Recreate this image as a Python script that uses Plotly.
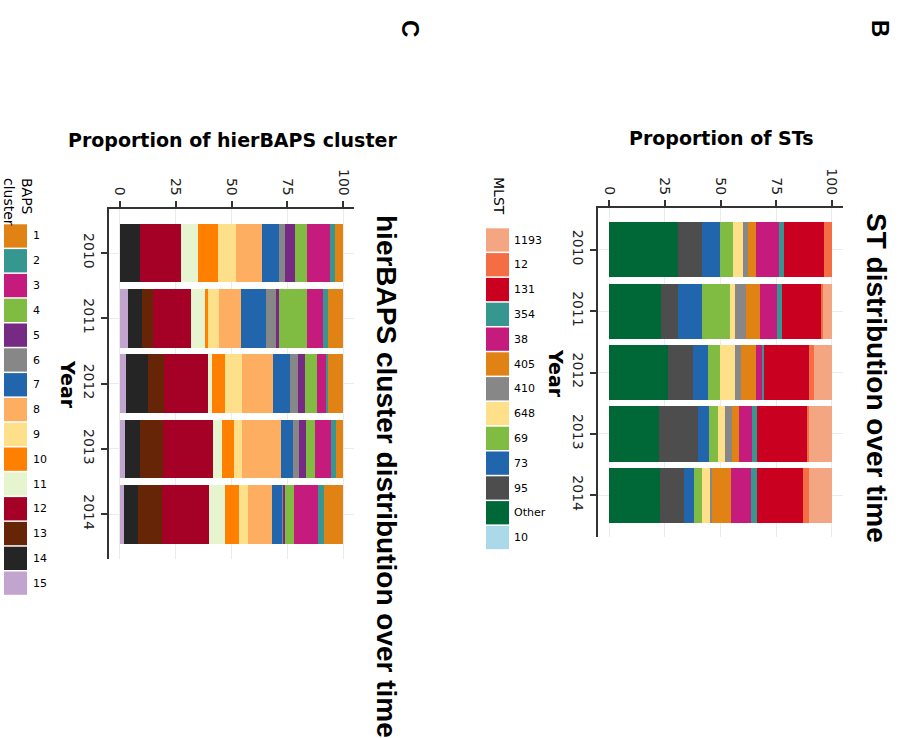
import plotly.graph_objects as go

W, H = 900, 738

years = ['2010', '2011', '2012', '2013', '2014']

# Panel B: MLST (ST) proportions per year (stack order from 0 outward)
st_order = ['Other', '95', '73', '69', '648', '410', '405', '38', '354', '131', '12', '1193', '10']
st_values = {
    'Other': [30.7, 23.4, 26.3, 22.4, 22.8],
    '95':    [11.2, 7.5, 11.3, 17.3, 10.8],
    '73':    [8.0, 11.0, 6.7, 5.1, 4.5],
    '69':    [5.6, 12.3, 5.6, 4.2, 3.7],
    '648':   [4.5, 2.5, 6.7, 2.9, 3.7],
    '410':   [2.4, 4.8, 2.8, 3.2, 0.8],
    '405':   [3.4, 6.3, 6.4, 3.0, 8.3],
    '38':    [10.3, 7.4, 3.0, 6.2, 9.0],
    '354':   [2.3, 2.4, 0.8, 2.0, 2.7],
    '131':   [18.2, 17.3, 20.0, 22.4, 20.7],
    '12':    [3.4, 1.2, 2.6, 0.9, 2.9],
    '1193':  [0.0, 3.9, 7.8, 10.4, 10.1],
    '10':    [0.0, 0.0, 0.0, 0.0, 0.0],
}
st_legend = ['1193', '12', '131', '354', '38', '405', '410', '648', '69', '73', '95', 'Other', '10']
st_colors = {
    '1193': '#F4A582', '12': '#F46D43', '131': '#CA0020', '354': '#35978F',
    '38': '#C51B7D', '405': '#E08214', '410': '#878787', '648': '#FEE08B',
    '69': '#7FBC41', '73': '#2166AC', '95': '#4D4D4D', 'Other': '#006837',
    '10': '#ABD9E9',
}

# Panel C: hierBAPS cluster proportions per year
baps_order = ['15', '14', '13', '12', '11', '10', '9', '8', '7', '6', '5', '4', '3', '2', '1']
baps_values = {
    '1':  [3.7, 6.6, 6.9, 3.3, 8.5],
    '2':  [2.2, 2.4, 0.9, 1.9, 2.7],
    '3':  [10.3, 7.3, 3.7, 7.3, 10.9],
    '4':  [5.4, 12.4, 5.7, 3.9, 3.7],
    '5':  [4.6, 1.2, 2.8, 3.2, 0.9],
    '6':  [2.4, 4.7, 3.7, 2.9, 0.5],
    '7':  [7.9, 11.2, 7.6, 5.4, 4.7],
    '8':  [11.5, 9.9, 14.1, 17.2, 10.9],
    '9':  [7.9, 5.0, 7.6, 4.0, 3.9],
    '10': [9.1, 1.2, 5.7, 5.1, 6.1],
    '11': [7.8, 6.2, 1.7, 4.0, 7.3],
    '12': [18.2, 17.3, 19.9, 22.5, 20.9],
    '13': [0.0, 4.9, 7.3, 10.3, 10.9],
    '14': [9.0, 6.0, 9.7, 6.9, 6.5],
    '15': [0.0, 3.7, 2.7, 2.1, 1.6],
}
baps_legend = [str(i) for i in range(1, 16)]
baps_colors = {
    '1': '#E08214', '2': '#35978F', '3': '#C51B7D', '4': '#7FBC41', '5': '#762A83',
    '6': '#878787', '7': '#2166AC', '8': '#FDAE61', '9': '#FEE08B', '10': '#FF7F00',
    '11': '#E6F5D0', '12': '#A50026', '13': '#662506', '14': '#252525', '15': '#C2A5CF',
}

prop_ticks = [0, 25, 50, 75, 100]

def px(x):
    return x / W

def py(y):
    return 1 - y / H

fig = go.Figure()

for k in st_order:
    fig.add_trace(go.Bar(
        y=years, x=st_values[k], orientation='h', name=k,
        marker=dict(color=st_colors[k], line=dict(width=0)),
        xaxis='x', yaxis='y', showlegend=False,
    ))
for k in baps_order:
    fig.add_trace(go.Bar(
        y=years, x=baps_values[k], orientation='h', name=k,
        marker=dict(color=baps_colors[k], line=dict(width=0)),
        xaxis='x2', yaxis='y2', showlegend=False,
    ))

tickfont = dict(family='DejaVu Sans', size=14, color='#222')
axis_common = dict(
    showline=True, linecolor='#333', linewidth=2,
    ticks='outside', ticklen=6, tickwidth=1.5, tickcolor='#333',
    showgrid=True, gridcolor='#EBEBEB', gridwidth=1, zeroline=False,
    tickfont=tickfont, tickangle=90,
)

fig.update_layout(
    width=W, height=H, margin=dict(l=0, r=0, t=0, b=0),
    paper_bgcolor='white', plot_bgcolor='white',
    barmode='stack', bargap=0.1,
    xaxis=dict(domain=[px(598), px(843)], range=[-5, 105], side='top',
               tickvals=prop_ticks, anchor='y', **axis_common),
    yaxis=dict(domain=[py(537), py(208)], range=[4.68, -0.68], type='category',
               anchor='x', **axis_common),
    xaxis2=dict(domain=[px(108.8), px(354.2)], range=[-5, 105], side='top',
                tickvals=prop_ticks, anchor='y2', **axis_common),
    yaxis2=dict(domain=[py(558.6), py(208.6)], range=[4.68, -0.68], type='category',
                anchor='x2', **axis_common),
)

ann = []
shapes = []
bold_dv = dict(family='DejaVu Sans', size=19, color='black', weight='bold')
title_font = dict(family='Liberation Sans', size=28, color='black', weight='bold')

def note(x, y, text, font, angle=0, xa='center', ya='middle', align='center'):
    ann.append(dict(x=px(x), y=py(y), text=text, textangle=angle, showarrow=False,
                    xref='paper', yref='paper', xanchor=xa, yanchor=ya, align=align, font=font))

letter_font = dict(family='Liberation Sans', size=24, weight='bold', color='black')
note(880, 28, 'B', letter_font, 90)
note(410, 28, 'C', letter_font, 90)
note(877, 378, 'ST distribution over time', title_font, 90)
note(386, 476, 'hierBAPS cluster distribution over time', title_font, 90)
note(721, 138, 'Proportion of STs', bold_dv)
note(232, 140, 'Proportion of hierBAPS cluster', bold_dv)
note(556, 373, 'Year', bold_dv, 90)
note(68, 384, 'Year', bold_dv, 90)

legfont = dict(family='DejaVu Sans', size=11, color='black')
legtitle = dict(family='DejaVu Sans', size=14, color='black')
# Legend B
note(499, 175, 'MLST', legtitle, 90, ya='top')
top, pitch = 228.3, 24.8
for i, k in enumerate(st_legend):
    y0 = top + i * pitch
    shapes.append(dict(type='rect', xref='paper', yref='paper', x0=px(486), x1=px(509),
                       y0=py(y0), y1=py(y0 + 23.3), fillcolor=st_colors[k], line=dict(width=0)))
    note(512, y0 + 11.7, k, legfont, xa='left')
# Legend C
note(18, 176, 'BAPS<br>cluster', legtitle, 90, ya='top', align='left')
top = 224.3
for i, k in enumerate(baps_legend):
    y0 = top + i * pitch
    shapes.append(dict(type='rect', xref='paper', yref='paper', x0=px(4), x1=px(27),
                       y0=py(y0), y1=py(y0 + 23.3), fillcolor=baps_colors[k], line=dict(width=0)))
    note(31, y0 + 11.7, k, legfont, xa='left')

fig.update_layout(annotations=ann, shapes=shapes)

fig.write_html('out.html', config={'displayModeBar': False},
               post_script="document.body.style.margin='0';")
